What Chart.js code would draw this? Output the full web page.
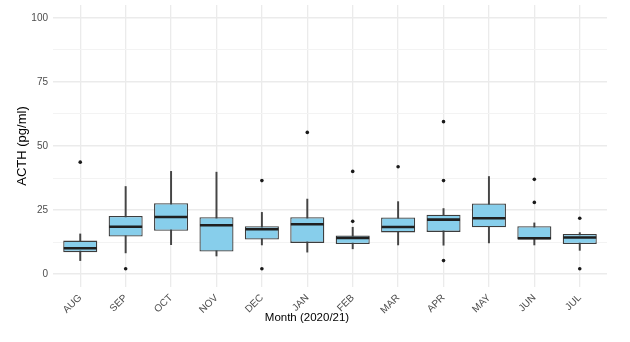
<!DOCTYPE html>
<html>
<head>
<meta charset="utf-8">
<script src="https://cdn.jsdelivr.net/npm/chart.js@4"></script>
<style>
  html, body { margin: 0; padding: 0; background: #fff; }
  #wrap { width: 630px; height: 342px; }
</style>
</head>
<body>
<div id="wrap"><canvas id="acthChart" width="630" height="342"></canvas></div>
<script>
const months = ["AUG", "SEP", "OCT", "NOV", "DEC", "JAN", "FEB", "MAR", "APR", "MAY", "JUN", "JUL"];
const whiskerLow  = [5.3, 8.3, 11.5, 7.1, 11.4, 8.6, 9.9, 11.4, 11.3, 12.2, 11.4, 9.3];
const q1          = [8.6, 14.7, 16.9, 8.8, 13.5, 12.2, 11.8, 16.3, 16.5, 18.3, 13.5, 11.8];
const medians     = [10.1, 18.5, 22.3, 19.1, 17.5, 19.5, 14.1, 18.4, 21.3, 21.8, 14.0, 14.3];
const q3          = [13.1, 22.7, 27.7, 22.2, 18.7, 22.2, 15.1, 22.1, 23.2, 27.6, 18.7, 15.7];
const whiskerHigh = [15.7, 34.2, 40.1, 39.8, 24.1, 29.3, 18.3, 28.3, 25.6, 38.1, 20.0, 16.2];
const outliers = [[43.7], [2.1], [], [], [36.5, 2.1], [55.3], [40.1, 20.6], [41.9], [59.5, 36.5, 5.3], [], [37.0, 28.0], [21.8, 2.1]];
const yTicks = [0, 12.5, 25, 37.5, 50, 62.5, 75, 87.5, 100];

const fontFamily = "'Liberation Sans', Arial, sans-serif";

const xTitlePlugin = {
    id: "xTitle",
    afterDraw(chart) {
        const ctx = chart.ctx;
        ctx.save();
        ctx.font = "11.5px " + fontFamily;
        ctx.fillStyle = "#000";
        ctx.textAlign = "center";
        ctx.textBaseline = "middle";
        ctx.fillText("Month (2020/21)", 307, 318);
        ctx.restore();
    },
};

document.addEventListener("DOMContentLoaded", function () {
    const outlierPoints = [];
    outliers.forEach((vals, i) => vals.forEach((v) => outlierPoints.push({ x: i, y: v })));

    new Chart(document.getElementById("acthChart").getContext("2d"), {
        type: "bar",
        data: {
            datasets: [
                {
                    label: "whisker",
                    data: months.map((m, i) => ({ x: i, y: [whiskerLow[i], whiskerHigh[i]] })),
                    backgroundColor: "#454545",
                    borderWidth: 0,
                    barThickness: 1.3,
                    grouped: false,
                    order: 4,
                },
                {
                    label: "box",
                    data: months.map((m, i) => ({ x: i, y: [q1[i], q3[i]] })),
                    backgroundColor: "#87CEEB",
                    borderColor: "#3d3d3d",
                    borderWidth: 1.3,
                    borderSkipped: false,
                    barPercentage: 0.75,
                    categoryPercentage: 1,
                    grouped: false,
                    order: 3,
                },
                {
                    type: "line",
                    label: "median",
                    data: months.map((m, i) => ({ x: i, y: medians[i] })),
                    showLine: false,
                    pointStyle: "line",
                    pointRadius: 16.5,
                    pointHoverRadius: 16.5,
                    pointBorderWidth: 2.6,
                    pointBorderColor: "#1f1f1f",
                    order: 2,
                },
                {
                    type: "line",
                    label: "outliers",
                    data: outlierPoints,
                    showLine: false,
                    pointStyle: "circle",
                    pointRadius: 1.8,
                    pointBackgroundColor: "#1a1a1a",
                    pointBorderWidth: 0,
                    order: 1,
                },
            ],
        },
        options: {
            responsive: false,
            animation: false,
            layout: { autoPadding: false, padding: { top: 5, right: 23, left: 0, bottom: 0 } },
            plugins: {
                legend: { display: false },
                tooltip: { enabled: false },
            },
            scales: {
                x: {
                    type: "linear",
                    offset: false,
                    min: -0.6,
                    max: 11.6,
                    afterBuildTicks: (scale) => {
                        scale.ticks = months.map((m, i) => ({ value: i }));
                    },
                    afterFit: (scale) => {
                        scale.height = 55;
                        scale.paddingLeft = 0;
                        scale.paddingRight = 0;
                    },
                    border: { display: false },
                    grid: {
                        offset: false,
                        color: "#ebebeb",
                        lineWidth: 1.3,
                        drawTicks: false,
                    },
                    ticks: {
                        autoSkip: false,
                        maxRotation: 45,
                        minRotation: 45,
                        padding: 5,
                        color: "#4d4d4d",
                        font: { family: fontFamily, size: 10 },
                        callback: (v) => months[v],
                    },
                },
                y: {
                    min: -5,
                    max: 105,
                    afterBuildTicks: (scale) => {
                        scale.ticks = yTicks.map((v) => ({ value: v }));
                    },
                    afterFit: (scale) => {
                        scale.width = 53;
                        scale.paddingTop = 0;
                        scale.paddingBottom = 0;
                    },
                    border: { display: false },
                    grid: {
                        drawTicks: false,
                        color: (ctx) => (ctx.tick && ctx.tick.value % 25 === 0 ? "#ebebeb" : "#f3f3f3"),
                        lineWidth: (ctx) => (ctx.tick && ctx.tick.value % 25 === 0 ? 1.6 : 1),
                    },
                    ticks: {
                        padding: 5,
                        color: "#4d4d4d",
                        font: { family: fontFamily, size: 10 },
                        callback: (v) => (v % 25 === 0 ? v : ""),
                    },
                    title: {
                        display: true,
                        text: "ACTH (pg/ml)",
                        color: "#000",
                        padding: { top: 15, bottom: 0 },
                        font: { family: fontFamily, size: 13 },
                    },
                },
            },
        },
        plugins: [xTitlePlugin],
    });
});
</script>
</body>
</html>
